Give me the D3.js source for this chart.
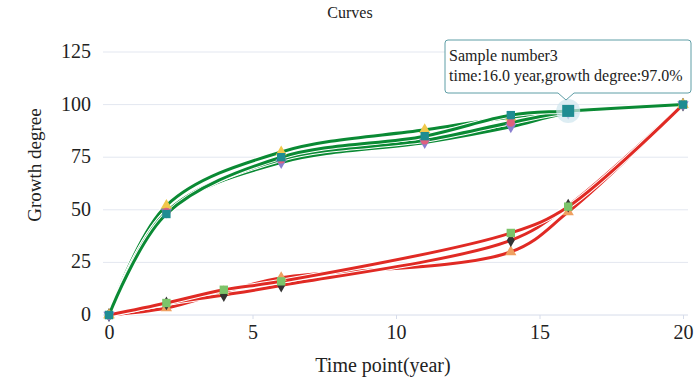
<!DOCTYPE html>
<html>
<head>
<meta charset="utf-8">
<script src="https://cdn.jsdelivr.net/npm/d3@7"></script>
<style>
  body { margin: 0; background: #fff; }
  text { font-family: "Liberation Serif", "DejaVu Serif", serif; fill: #222; }
</style>
</head>
<body>
<script>
// time points (years) where each group was measured
var greenYears = [0, 2, 6, 11, 14, 16, 20];
var redYears = [0, 2, 4, 6, 14, 16, 20];

// growth degree, fast-growing samples
var greenA = [0, 52, 77.5, 88, 94, 97, 100];
var greenB = [0, 48, 75, 85, 95, 97, 100];
var greenC = [0, 49, 74, 83, 91.5, 96.5, 100];
var greenD = [0, 49, 72.5, 82, 89.5, 96, 100];

// growth degree, slow-growing samples
var redA = [0, 5.7, 12, 16, 39, 51.5, 100];
var redB = [0, 5.5, 9.5, 14, 35.5, 52, 100];
var redC = [0, 3.3, 11, 17.7, 30, 49, 100];

var yTicks = [0, 25, 50, 75, 100, 125];
var xTicks = [0, 5, 10, 15, 20];

var width = 700, height = 382;
var margin = {top: 52, right: 17, bottom: 67, left: 109};

var svg = d3.select("body").append("svg")
	.attr("width", width)
	.attr("height", height);

var x = d3.scaleLinear().domain([0, 20]).range([margin.left, width - margin.right]);
var y = d3.scaleLinear().domain([0, 125]).range([height - margin.bottom, margin.top]);

// grid
svg.append("g").selectAll("line").data(yTicks).enter().append("line")
	.attr("x1", x(0) - 6).attr("x2", x(20) + 5)
	.attr("y1", d => y(d)).attr("y2", d => y(d))
	.attr("stroke", d => d === 0 ? "#d6dcea" : "#e3e7f0")
	.attr("stroke-width", 1);

// y tick labels
svg.append("g").selectAll("text").data(yTicks).enter().append("text")
	.attr("x", 91).attr("y", d => y(d) + 6)
	.attr("text-anchor", "end")
	.attr("font-size", "20px")
	.text(d => d);

// x ticks
var xAxis = d3.axisBottom(x).tickValues(xTicks).tickSize(4).tickPadding(6);
var xg = svg.append("g")
	.attr("transform", "translate(0," + y(0) + ")")
	.call(xAxis);
xg.select(".domain").remove();
xg.selectAll("line").attr("stroke", "#d6dcea");
xg.selectAll("text")
	.attr("font-size", "20px")
	.attr("fill", "#222")
	.style("font-family", "Liberation Serif, serif");

// titles
svg.append("text")
	.attr("x", 350).attr("y", 18)
	.attr("text-anchor", "middle")
	.attr("font-size", "16px")
	.text("Curves");

svg.append("text")
	.attr("x", 383).attr("y", 372)
	.attr("text-anchor", "middle")
	.attr("font-size", "20px")
	.text("Time point(year)");

svg.append("text")
	.attr("transform", "translate(41,165) rotate(-90)")
	.attr("text-anchor", "middle")
	.attr("font-size", "19px")
	.text("Growth degree");

var series = [
	{xs: redYears, ys: redC, line: "#e02a24", mark: "#f0a060", shape: d3.symbolTriangle},
	{xs: redYears, ys: redB, line: "#e02a24", mark: "#333333", shape: d3.symbolDiamond},
	{xs: redYears, ys: redA, line: "#e02a24", mark: "#7cc46a", shape: d3.symbolSquare},
	{xs: greenYears, ys: greenA, line: "#0a8a34", mark: "#f0c84a", shape: d3.symbolTriangle},
	{xs: greenYears, ys: greenD, line: "#0a8a34", mark: "#8a7fd0", shape: d3.symbolTriangle, flip: true},
	{xs: greenYears, ys: greenC, line: "#0a8a34", mark: "#e0607e", shape: d3.symbolCircle},
	{xs: greenYears, ys: greenB, line: "#0a8a34", mark: "#1f8c92", shape: d3.symbolSquare}
];

var line = d3.line()
	.x(d => x(d[0]))
	.y(d => y(d[1]))
	.curve(d3.curveCatmullRom.alpha(0.5));

series.forEach(function(s) {
	var pts = s.xs.map((t, i) => [t, s.ys[i]]);
	svg.append("path")
		.datum(pts)
		.attr("d", line)
		.attr("fill", "none")
		.attr("stroke", "#fff")
		.attr("stroke-width", 5);
	svg.append("path")
		.datum(pts)
		.attr("d", line)
		.attr("fill", "none")
		.attr("stroke", s.line)
		.attr("stroke-width", 3);
});

series.forEach(function(s) {
	var pts = s.xs.map((t, i) => [t, s.ys[i]]);
	svg.append("g").selectAll("path").data(pts).enter().append("path")
		.attr("d", d3.symbol().type(s.shape).size(s.shape === d3.symbolSquare ? 70 : 55))
		.attr("transform", d => "translate(" + x(d[0]) + "," + y(d[1]) + ")" + (s.flip ? " rotate(180)" : ""))
		.attr("fill", s.mark);
});

// highlighted point of sample 3
var hx = x(16), hy = y(97);
svg.append("circle")
	.attr("cx", hx).attr("cy", hy).attr("r", 12)
	.attr("fill", "#cfe6ee").attr("opacity", 0.7);
svg.append("rect")
	.attr("x", hx - 6).attr("y", hy - 6)
	.attr("width", 12).attr("height", 12)
	.attr("fill", "#1f8c92");

// tooltip
var tip = svg.append("g").attr("transform", "translate(445,40)");
tip.append("path")
	.attr("d", "M3,0 H243 Q246,0 246,3 V50 Q246,53 243,53 H129 L121,60 L113,53 H3 Q0,53 0,50 V3 Q0,0 3,0 Z")
	.attr("fill", "#fff")
	.attr("stroke", "#5f9ea6")
	.attr("stroke-width", 1);
tip.append("text")
	.attr("x", 4).attr("y", 21)
	.attr("font-size", "16px")
	.text("Sample number3");
tip.append("text")
	.attr("x", 4).attr("y", 41)
	.attr("font-size", "16px")
	.text("time:16.0 year,growth degree:97.0%");
</script>
</body>
</html>
